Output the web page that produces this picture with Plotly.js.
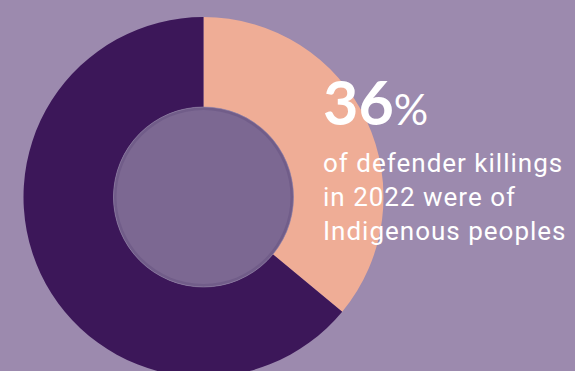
<!DOCTYPE html>
<html>
<head>
<meta charset="utf-8">
<script src="https://cdn.plot.ly/plotly-3.0.1.min.js"></script>
<style>
html,body{margin:0;padding:0;background:#9c8aae;overflow:hidden;width:575px;height:371px;}
#chart{width:575px;height:400px;}
</style>
</head>
<body>
<div id="chart"></div>
<script>
const categories = ["Indigenous peoples", "Other defenders"];
const shares = [36, 64];
const colors = ["#efad96", "#3c1759"];
const headline = "36";
const headlineUnit = "%";
const captionLines = ["of defender killings", "in 2022 were of", "Indigenous peoples"];

const W = 575, H = 400;
const cx = 203.5, cy = 197, R = 180, r = 90;

const trace = {
  type: "pie",
  labels: categories,
  values: shares,
  sort: false,
  direction: "clockwise",
  rotation: 0,
  hole: 0.5,
  textinfo: "none",
  hoverinfo: "skip",
  marker: {colors: colors, line: {width: 0}},
  domain: {x: [(cx - R) / W, (cx + R) / W], y: [(H - cy - R) / H, (H - cy + R) / H]},
  showlegend: false
};

const layout = {
  width: W, height: H,
  margin: {l: 0, r: 0, t: 0, b: 0},
  paper_bgcolor: "#9c8aae",
  plot_bgcolor: "#9c8aae",
  showlegend: false,
  shapes: [
    {type: "circle", xref: "paper", yref: "paper",
     x0: (cx - r) / W, x1: (cx + r) / W, y0: (H - cy - r) / H, y1: (H - cy + r) / H,
     fillcolor: "#715d89", line: {color: "#9484a8", width: 0.6}},
    {type: "circle", xref: "paper", yref: "paper",
     x0: (cx - r + 3) / W, x1: (cx + r - 3) / W, y0: (H - cy - r + 3) / H, y1: (H - cy + r - 3) / H,
     fillcolor: "#7c6892", line: {width: 0}}
  ],
  annotations: [
    {xref: "paper", yref: "paper", x: 321 / W, y: 1 - 140 / H, xanchor: "left", yanchor: "bottom",
     showarrow: false, align: "left",
     text: "<b>" + headline + "</b><span style='font-size:43px'>" + headlineUnit + "</span>",
     font: {family: "Lato, Roboto, sans-serif", size: 61, color: "#ffffff"}},
    {xref: "paper", yref: "paper", x: 321 / W, y: 1 - 146 / H, xanchor: "left", yanchor: "top",
     showarrow: false, align: "left",
     text: captionLines.map(s => "<span style='letter-spacing:1px'>" + s + "</span>").join("<br>"),
     font: {family: "Roboto, sans-serif", size: 26, color: "#ffffff"}}
  ]
};

Plotly.newPlot("chart", [trace], layout, {displayModeBar: false, staticPlot: true});
</script>
</body>
</html>
